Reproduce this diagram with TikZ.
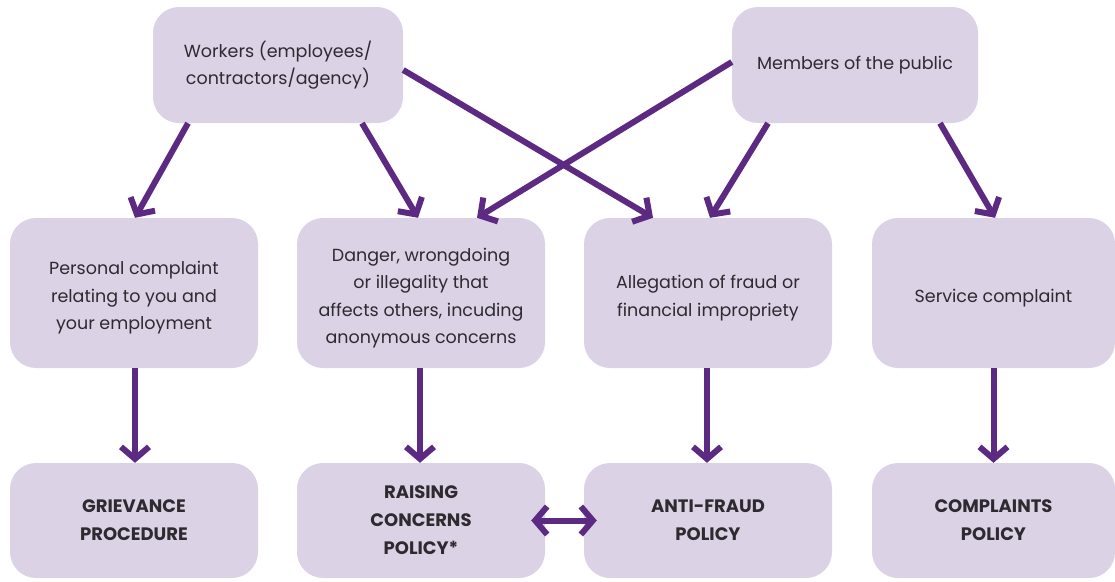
\documentclass[tikz,border=0pt]{standalone}
\usepackage{fontspec}
\setmainfont{Poppins}
\usetikzlibrary{arrows.meta}
\definecolor{boxfill}{HTML}{DBD2E5}
\definecolor{arrowpurple}{HTML}{5C2A82}
\definecolor{txt}{HTML}{2E2A30}
\tikzset{
  box/.style={fill=boxfill, rounded corners=26pt, align=center, text=txt,
    inner sep=0pt, font=\fontsize{17.5}{27.5}\selectfont},
  topbox/.style={box, minimum width=248pt, minimum height=116pt},
  midbox/.style={box, minimum width=248pt, minimum height=150pt},
  botbox/.style={box, minimum width=248pt, minimum height=115pt,
    font=\fontsize{18}{28}\selectfont\bfseries},
  conn/.style={draw=arrowpurple, line width=6pt,
    -{Straight Barb[length=12pt,width=28pt,line join=miter]}},
  dconn/.style={draw=arrowpurple, line width=6pt,
    {Straight Barb[length=12pt,width=28pt]}-{Straight Barb[length=12pt,width=28pt]}}
}
\begin{document}
\begin{tikzpicture}[x=1pt,y=-1pt]
\useasboundingbox (0,0) rectangle (1115,581);
% top row
\node[topbox, minimum width=250pt] (W) at (278,65) {Workers (employees/\\contractors/agency)};
\node[topbox, minimum width=246pt] (M) at (855,65) {Members of the public};
% middle row
\node[midbox] (P) at (134,293) {\\[-4pt]Personal complaint\\relating to you and\\your employment};
\node[midbox] (D) at (421,293) {\\[-4pt]Danger, wrongdoing\\or illegality that\\affects others, incuding\\anonymous concerns};
\node[midbox] (A) at (708,293) {\\[-4pt]Allegation of fraud or\\financial impropriety};
\node[midbox, minimum width=243pt] (S) at (993.5,293) {\\[-4pt]Service complaint};
% bottom row
\node[botbox] (G) at (134,520.5) {GRIEVANCE\\PROCEDURE};
\node[botbox] (R) at (421,520.5) {RAISING\\CONCERNS\\POLICY*};
\node[botbox] (F) at (708,520.5) {ANTI-FRAUD\\POLICY};
\node[botbox, minimum width=243pt] (C) at (993.5,520.5) {COMPLAINTS\\POLICY};
% connectors from top row
\draw[conn] ([xshift=-90pt]W.south) -- ([xshift=1pt]P.north);
\draw[conn] ([xshift=84pt]W.south) -- ([xshift=-3pt]D.north);
\draw[conn] ([yshift=-5pt]W.east) -- ([xshift=-55pt]A.north);
\draw[conn] ([yshift=3pt]M.west) -- ([xshift=56pt]D.north);
\draw[conn] ([xshift=-87pt]M.south) -- ([xshift=2pt]A.north);
\draw[conn] ([xshift=85pt]M.south) -- ([xshift=1.5pt]S.north);
% verticals
\draw[conn] ([xshift=1pt]P.south) -- ([xshift=1pt]G.north);
\draw[conn] ([xshift=-1pt]D.south) -- ([xshift=-1pt]R.north);
\draw[conn] ([xshift=-1pt]A.south) -- ([xshift=-1pt]F.north);
\draw[conn] ([xshift=0pt]S.south) -- ([xshift=0pt]C.north);
% double arrow
\draw[dconn] ([xshift=-14pt]R.east) -- ([xshift=13pt]F.west);
\end{tikzpicture}
\end{document}
